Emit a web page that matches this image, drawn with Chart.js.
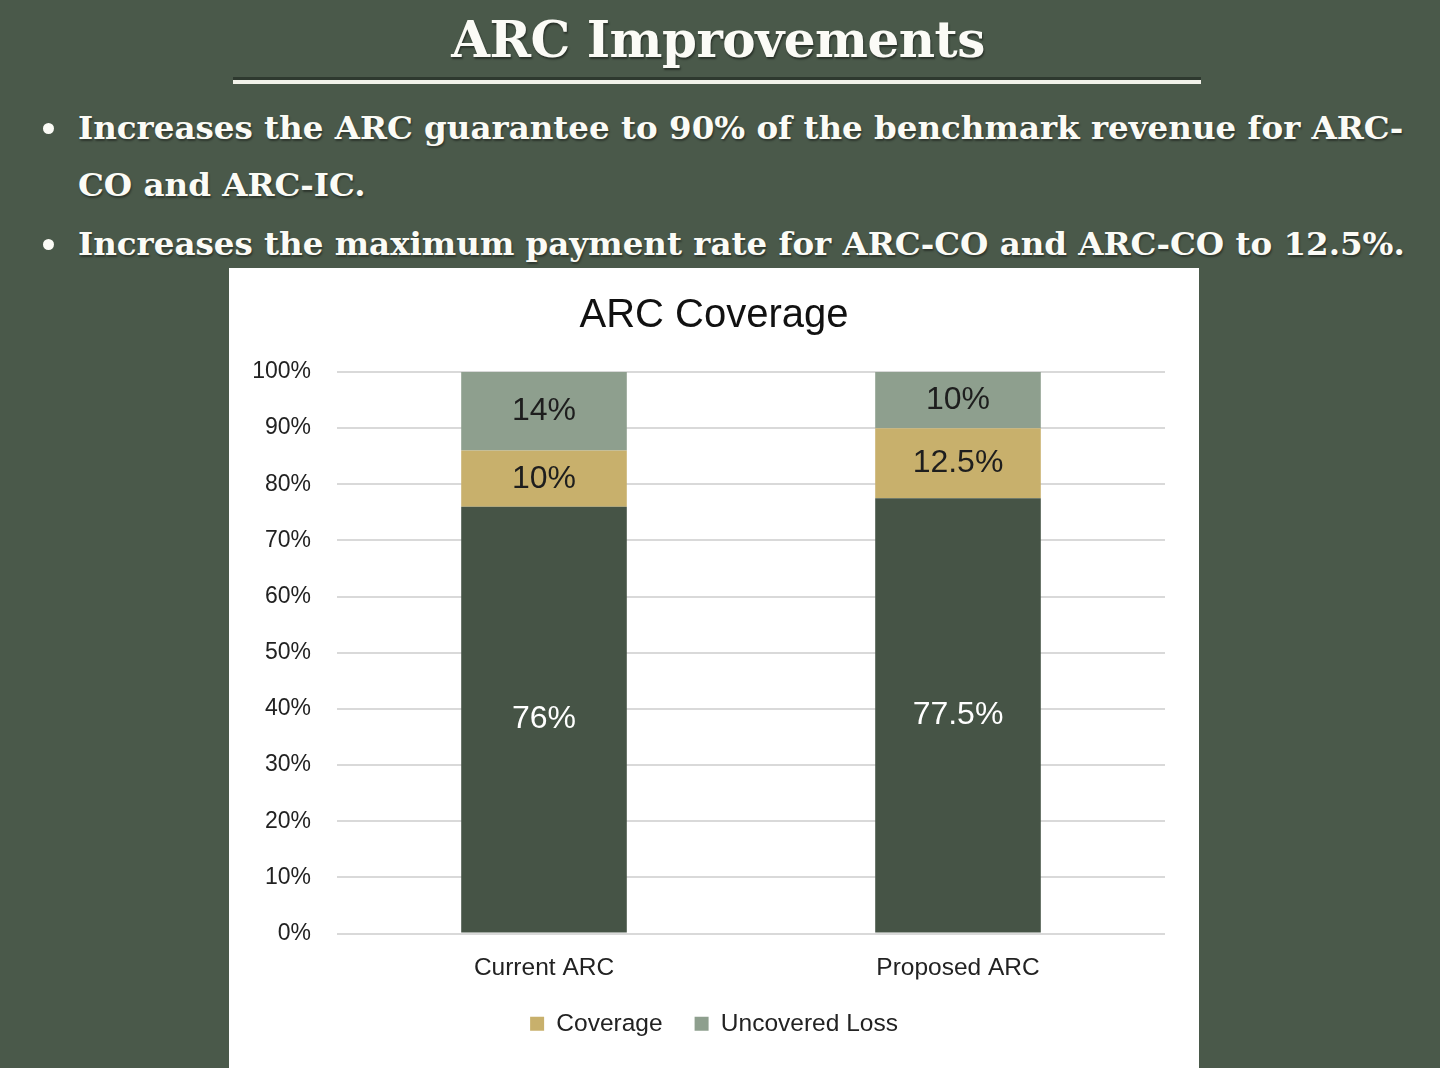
<!DOCTYPE html>
<html>
<head>
<meta charset="utf-8">
<title>ARC Improvements</title>
<script src="https://cdn.jsdelivr.net/npm/chart.js@4/dist/chart.umd.min.js"></script>
<style>
    html, body { margin: 0; padding: 0; }
    body {
        width: 1440px;
        height: 1068px;
        background: #4a594a;
        position: relative;
        overflow: hidden;
        font-family: "DejaVu Serif", serif;
        color: #fbfbf6;
    }
    h1 {
        position: absolute;
        left: 0;
        top: 8px;
        width: 1436px;
        margin: 0;
        text-align: center;
        font-size: 50px;
        font-weight: bold;
        line-height: 64px;
        letter-spacing: -0.5px;
        text-shadow: 1px 2px 2px rgba(0,0,0,0.45);
    }
    .rule {
        position: absolute;
        left: 233px;
        top: 80px;
        width: 968px;
        height: 4px;
        background: #f2f2ea;
        box-shadow: 0 -3px 0 #2e392f;
    }
    .line {
        position: absolute;
        left: 78px;
        font-size: 32.5px;
        font-weight: bold;
        line-height: 40px;
        white-space: nowrap;
        text-shadow: 1px 2px 2px rgba(0,0,0,0.4);
    }
    .dot {
        position: absolute;
        left: 43px;
        width: 11px;
        height: 11px;
        border-radius: 50%;
        background: #fbfbf6;
    }
    #chartBox {
        position: absolute;
        left: 229px;
        top: 268px;
        width: 970px;
        height: 800px;
        background: #ffffff;
    }
</style>
</head>
<body>
<h1>ARC Improvements</h1>
<div class="rule"></div>

<div class="dot" style="top:123px"></div>
<div class="line" style="top:108px">Increases the ARC guarantee to 90% of the benchmark revenue for ARC-</div>
<div class="line" style="top:165px">CO and ARC-IC.</div>
<div class="dot" style="top:239px"></div>
<div class="line" style="top:224px">Increases the maximum payment rate for ARC-CO and ARC-CO to 12.5%.</div>

<div id="chartBox">
    <canvas id="arcChart" width="970" height="800"></canvas>
</div>

<script>
// Chart data
const categories = ['Current ARC', 'Proposed ARC'];
const baseShare = [76, 77.5];
const coverageShare = [10, 12.5];
const uncoveredShare = [14, 10];
const yTicks = [0, 10, 20, 30, 40, 50, 60, 70, 80, 90, 100];

const SANS = "'Liberation Sans', Arial, sans-serif";

// Draws the value inside each stacked segment
const segmentLabels = {
    id: 'segmentLabels',
    afterDatasetsDraw(chart) {
        const ctx = chart.ctx;
        ctx.save();
        ctx.font = `32px ${SANS}`;
        ctx.textAlign = 'center';
        ctx.textBaseline = 'middle';
        chart.data.datasets.forEach((ds, i) => {
            const meta = chart.getDatasetMeta(i);
            meta.data.forEach((bar, j) => {
                const p = bar.getProps(['x', 'y', 'base'], true);
                ctx.fillStyle = ds.labelColor;
                ctx.fillText(ds.data[j] + '%', p.x, (p.y + p.base) / 2);
            });
        });
        ctx.restore();
    }
};

new Chart(document.getElementById('arcChart'), {
    type: 'bar',
    data: {
        labels: categories,
        datasets: [
            {
                label: 'Base',
                data: baseShare,
                backgroundColor: '#465446',
                labelColor: '#ffffff'
            },
            {
                label: 'Coverage',
                data: coverageShare,
                backgroundColor: '#c8b06c',
                labelColor: '#1e1e1e'
            },
            {
                label: 'Uncovered Loss',
                data: uncoveredShare,
                backgroundColor: '#8e9f8e',
                labelColor: '#1e1e1e'
            }
        ]
    },
    options: {
        responsive: false,
        animation: false,
        layout: { padding: { top: 0, right: 17, bottom: 22, left: 17 } },
        datasets: {
            bar: { categoryPercentage: 1, barPercentage: 0.4 }
        },
        plugins: {
            title: {
                display: true,
                text: 'ARC Coverage',
                color: '#111111',
                font: { family: SANS, size: 40, weight: 'normal' },
                padding: { top: 24, bottom: 32 }
            },
            legend: {
                position: 'bottom',
                labels: {
                    filter: item => item.datasetIndex > 0,
                    color: '#222222',
                    boxWidth: 14,
                    boxHeight: 14,
                    padding: 32,
                    font: { family: SANS, size: 24.5 }
                }
            },
            tooltip: { enabled: false }
        },
        scales: {
            x: {
                stacked: true,
                grid: { display: false, drawTicks: false },
                border: { display: false },
                ticks: {
                    color: '#222222',
                    padding: 20,
                    font: { family: SANS, size: 24.5 }
                },
                afterFit: scale => { scale.height = 46; }
            },
            y: {
                stacked: true,
                min: 0,
                max: 100,
                grid: { color: '#d9d9d9', lineWidth: 2, drawTicks: false },
                border: { display: false },
                afterBuildTicks: scale => {
                    scale.ticks = yTicks.map(v => ({ value: v }));
                },
                ticks: {
                    color: '#222222',
                    padding: 26,
                    font: { family: SANS, size: 23 },
                    callback: v => v + '%'
                },
                afterFit: scale => { scale.width = 91; }
            },
            // empty spacer on the right so the title stays centred on the box
            spacer: {
                position: 'right',
                grid: { display: false },
                border: { display: false },
                ticks: { display: false },
                afterFit: scale => { scale.width = 17; }
            }
        }
    },
    plugins: [segmentLabels]
});
</script>
</body>
</html>
